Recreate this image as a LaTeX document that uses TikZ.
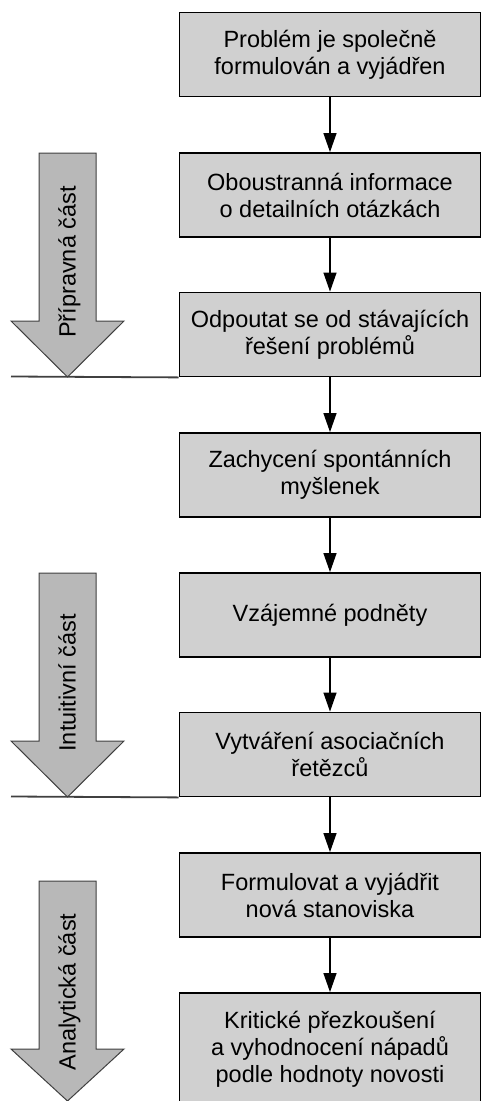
\documentclass[tikz,border=0pt]{standalone}
\usepackage{fontspec}
\setmainfont{Liberation Sans}
\usetikzlibrary{arrows.meta}
\definecolor{boxfill}{RGB}{208,208,208}
\definecolor{arrfill}{RGB}{184,184,184}
\definecolor{sepline}{RGB}{64,64,64}
\begin{document}
\begin{tikzpicture}[x=1pt,y=-1pt,
  stepbox/.style={draw=black,line width=1.8pt,fill=boxfill,minimum width=301pt,minimum height=84pt,align=center,font=\fontsize{23.5}{27}\selectfont,inner sep=0pt},
  flow/.style={line width=1.2pt,-{Triangle[length=19pt,width=13pt]}},
  phase/.style={draw=black!75,line width=1pt,fill=arrfill},
  phaselabel/.style={rotate=90,anchor=base,font=\fontsize{23.5}{27}\selectfont,inner sep=0pt},
  sepl/.style={draw=sepline,line width=1.8pt}]
\useasboundingbox (0,0) rectangle (482,1101);

% phase arrows
\path[phase] (39,153) -- (96,153) -- (96,321) -- (124,321) -- (67.5,377) -- (11,321) -- (39,321) -- cycle;
\node[phaselabel] (l1) at (75.5,262) {Přípravná část};
\path[phase] (39,573) -- (96,573) -- (96,741) -- (124,741) -- (67.5,797) -- (11,741) -- (39,741) -- cycle;
\node[phaselabel] (l2) at (75.5,683) {Intuitivní část};
\path[phase] (39,881) -- (96,881) -- (96,1049) -- (124,1049) -- (67.5,1101) -- (11,1049) -- (39,1049) -- cycle;
\node[phaselabel] (l3) at (75.5,992) {Analytická část};

% boxes
\node[stepbox] (b1) at (330,54.5) {Problém je společně\\formulován a vyjádřen};
\node[stepbox] (b2) at (330,195) {Oboustranná informace\\o detailních otázkách};
\node[stepbox] (b3) at (330,334.5) {Odpoutat se od stávajících\\řešení problémů};
\node[stepbox] (b4) at (330,475) {Zachycení spontánních\\myšlenek};
\node[stepbox] (b5) at (330,615) {Vzájemné podněty};
\node[stepbox] (b6) at (330,754.5) {Vytváření asociačních\\řetězců};
\node[stepbox] (b7) at (330,895) {Formulovat a vyjádřit\\nová stanoviska};
\node[stepbox,minimum height=112pt] (b8) at (330,1049) {Kritické přezkoušení\\a vyhodnocení nápadů\\podle hodnoty novosti};

% separators
\coordinate (s1) at (11,376.5);
\coordinate (s2) at (11,796.5);
\draw[sepl] (s1) -- (b3.south west);
\draw[sepl] (s2) -- (b6.south west);

% connectors
\draw[flow] (b1) -- (b2);
\draw[flow] (b2) -- (b3);
\draw[flow] (b3) -- (b4);
\draw[flow] (b4) -- (b5);
\draw[flow] (b5) -- (b6);
\draw[flow] (b6) -- (b7);
\draw[flow] (b7) -- (b8);
\end{tikzpicture}
\end{document}
